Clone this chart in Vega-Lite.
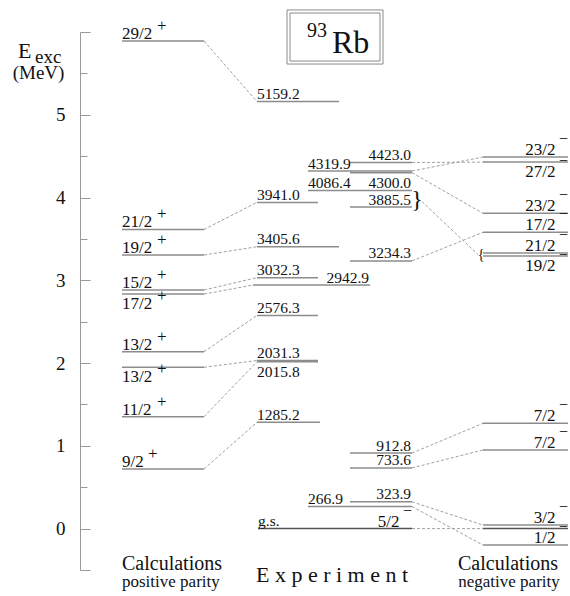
{
  "$schema": "https://vega.github.io/schema/vega-lite/v6.json",
  "width": 490,
  "height": 538,
  "autosize": {"type": "none"},
  "padding": {"left": 80, "top": 32, "right": 0, "bottom": 26},
  "background": "white",
  "config": {"font": "Liberation Serif", "view": {"stroke": null}, "text": {"font": "Liberation Serif", "color": "#111"}},
  "datasets": {
    "levels": [
      {"x": 42, "x2": 124, "e": 5.891, "j": "29/2", "sgn": "+", "jpos": "A"},
      {"x": 42, "x2": 124, "e": 3.614, "j": "21/2", "sgn": "+", "jpos": "A"},
      {"x": 42, "x2": 124, "e": 3.306, "j": "19/2", "sgn": "+", "jpos": "A"},
      {"x": 42, "x2": 124, "e": 2.883, "j": "15/2", "sgn": "+", "jpos": "A"},
      {"x": 42, "x2": 124, "e": 2.834, "j": "17/2", "sgn": "+", "jpos": "B"},
      {"x": 42, "x2": 124, "e": 2.137, "j": "13/2", "sgn": "+", "jpos": "A"},
      {"x": 42, "x2": 124, "e": 1.949, "j": "13/2", "sgn": "+", "jpos": "B"},
      {"x": 42, "x2": 124, "e": 1.352, "j": "11/2", "sgn": "+", "jpos": "A"},
      {"x": 42, "x2": 124, "e": 0.72, "j": "9/2", "sgn": "+", "jpos": "A"},
      {"x": 177, "x2": 259, "e": 5.1592, "lab": "5159.2", "pos": "LA"},
      {"x": 177, "x2": 238, "e": 3.941, "lab": "3941.0", "pos": "LA"},
      {"x": 177, "x2": 259, "e": 3.4056, "lab": "3405.6", "pos": "LA"},
      {"x": 177, "x2": 238, "e": 3.0323, "lab": "3032.3", "pos": "LA"},
      {"x": 173, "x2": 290, "e": 2.9429, "lab": "2942.9", "pos": "RA"},
      {"x": 177, "x2": 238, "e": 2.5763, "lab": "2576.3", "pos": "LA"},
      {"x": 177, "x2": 238, "e": 2.0313, "lab": "2031.3", "pos": "LA"},
      {"x": 177, "x2": 238, "e": 2.0158, "lab": "2015.8", "pos": "LB"},
      {"x": 177, "x2": 240, "e": 1.2852, "lab": "1285.2", "pos": "LA"},
      {"x": 178, "x2": 332, "e": 0, "lab": "g.s.", "pos": "LA", "j": "5/2", "sgn": "−", "jpos": "A"},
      {"x": 270, "x2": 332, "e": 4.423, "lab": "4423.0", "pos": "RA"},
      {"x": 228, "x2": 332, "e": 4.3199, "lab": "4319.9", "pos": "LA"},
      {"x": 270, "x2": 332, "e": 4.3, "lab": "4300.0", "pos": "RB"},
      {"x": 228, "x2": 332, "e": 4.0864, "lab": "4086.4", "pos": "LA"},
      {"x": 270, "x2": 332, "e": 3.8855, "lab": "3885.5", "pos": "RA"},
      {"x": 270, "x2": 332, "e": 3.2343, "lab": "3234.3", "pos": "RA"},
      {"x": 270, "x2": 332, "e": 0.9128, "lab": "912.8", "pos": "RA"},
      {"x": 270, "x2": 332, "e": 0.7336, "lab": "733.6", "pos": "RA"},
      {"x": 270, "x2": 332, "e": 0.3239, "lab": "323.9", "pos": "RA"},
      {"x": 228, "x2": 332, "e": 0.2669, "lab": "266.9", "pos": "LA"},
      {"x": 403, "x2": 488, "e": 4.489, "j": "23/2", "sgn": "−", "jpos": "A"},
      {"x": 403, "x2": 488, "e": 4.428, "j": "27/2", "sgn": "−", "jpos": "B"},
      {"x": 403, "x2": 488, "e": 3.809, "j": "23/2", "sgn": "−", "jpos": "A"},
      {"x": 403, "x2": 488, "e": 3.58, "j": "17/2", "sgn": "−", "jpos": "A"},
      {"x": 403, "x2": 488, "e": 3.33, "j": "21/2", "sgn": "−", "jpos": "A"},
      {"x": 403, "x2": 488, "e": 3.293, "j": "19/2", "sgn": "−", "jpos": "B"},
      {"x": 403, "x2": 488, "e": 1.272, "j": "7/2", "sgn": "−", "jpos": "A"},
      {"x": 403, "x2": 488, "e": 0.95, "j": "7/2", "sgn": "−", "jpos": "A"},
      {"x": 403, "x2": 488, "e": 0.043, "j": "3/2", "sgn": "−", "jpos": "A"},
      {"x": 403, "x2": 488, "e": 0},
      {"x": 403, "x2": 488, "e": -0.199, "j": "1/2", "sgn": "−", "jpos": "A"}
    ],
    "links": [
      {"x": 124, "e": 5.891, "x2": 177, "e2": 5.1592},
      {"x": 124, "e": 3.614, "x2": 177, "e2": 3.941},
      {"x": 124, "e": 3.306, "x2": 177, "e2": 3.4056},
      {"x": 124, "e": 2.883, "x2": 177, "e2": 3.0323},
      {"x": 124, "e": 2.834, "x2": 173, "e2": 2.9429},
      {"x": 124, "e": 2.137, "x2": 177, "e2": 2.5763},
      {"x": 124, "e": 1.949, "x2": 177, "e2": 2.0313},
      {"x": 124, "e": 1.352, "x2": 177, "e2": 2.0158},
      {"x": 124, "e": 0.72, "x2": 177, "e2": 1.2852},
      {"x": 332, "e": 4.423, "x2": 403, "e2": 4.428},
      {"x": 332, "e": 4.3199, "x2": 403, "e2": 4.489},
      {"x": 332, "e": 4.3, "x2": 403, "e2": 3.809},
      {"x": 342, "e": 3.95, "x2": 398, "e2": 3.311},
      {"x": 332, "e": 3.2343, "x2": 403, "e2": 3.58},
      {"x": 332, "e": 0.9128, "x2": 403, "e2": 1.272},
      {"x": 332, "e": 0.7336, "x2": 403, "e2": 0.95},
      {"x": 332, "e": 0.3239, "x2": 403, "e2": 0.043},
      {"x": 332, "e": 0.2669, "x2": 403, "e2": -0.199},
      {"x": 332, "e": 0, "x2": 403, "e2": 0}
    ],
    "box": [
      {"x": 207, "x2": 303, "e": 6.266, "e2": 5.613},
      {"x": 210, "x2": 300, "e": 6.229, "e2": 5.649}
    ],
    "notes": [
      {"t": "E", "x": -62, "e": 5.686, "k": "E"},
      {"t": "exc", "x": -45, "e": 5.62, "k": "sub"},
      {"t": "(MeV)", "x": -41.5, "e": 5.43, "k": "unit"},
      {"t": "Calculations", "x": 42, "e": -0.502, "k": "calcL"},
      {"t": "positive parity", "x": 42, "e": -0.71, "k": "parL"},
      {"t": "E x p e r i m e n t", "x": 252, "e": -0.647, "k": "exp"},
      {"t": "Calculations", "x": 428, "e": -0.502, "k": "calcR"},
      {"t": "negative parity", "x": 429, "e": -0.71, "k": "parR"},
      {"t": "Rb", "x": 252, "e": 5.746, "k": "iso"},
      {"t": "93", "x": 247, "e": 5.939, "k": "mass"},
      {"t": "}", "x": 337, "e": 3.97, "k": "brace"},
      {"t": "{", "x": 401, "e": 3.311, "k": "brace2"}
    ]
  },
  "encoding": {
    "x": {"field": "x", "type": "quantitative", "scale": {"domain": [0, 490], "nice": false, "zero": false}, "axis": null},
    "y": {
      "field": "e",
      "type": "quantitative",
      "scale": {"domain": [-0.5, 6], "nice": false, "zero": false},
      "axis": {
        "title": null,
        "grid": false,
        "values": [-0.5, 0, 0.5, 1, 1.5, 2, 2.5, 3, 3.5, 4, 4.5, 5, 5.5, 6],
        "labelExpr": "(datum.value % 1 === 0 && datum.value >= 0 && datum.value < 6) ? format(datum.value, 'd') : ''",
        "tickSize": {"condition": {"test": "datum.value % 1 === 0 || datum.value === -0.5", "value": -10}, "value": -7},
        "labelPadding": 25,
        "labelFont": "Liberation Serif",
        "labelFontSize": 19,
        "labelColor": "#111",
        "domainColor": "#999",
        "tickColor": "#999",
        "domainWidth": 1,
        "tickWidth": 1,
        "labelBound": false,
        "labelFlush": false,
        "labelOverlap": false
      }
    }
  },
  "layer": [
    {
      "data": {"name": "box"},
      "mark": {"type": "rect", "filled": false, "stroke": "#8a8a8a", "strokeWidth": 1},
      "encoding": {"x2": {"field": "x2"}, "y2": {"field": "e2"}}
    },
    {
      "data": {"name": "links"},
      "mark": {"type": "rule", "stroke": "#a0a0a0", "strokeWidth": 1, "strokeDash": [3, 2]},
      "encoding": {"x2": {"field": "x2"}, "y2": {"field": "e2"}}
    },
    {
      "data": {"name": "levels"},
      "mark": {"type": "rule", "strokeWidth": 1.5},
      "encoding": {
        "x2": {"field": "x2"},
        "color": {"condition": {"test": "datum.e === 0", "value": "#555555"}, "value": "#8c8c8c"}
      }
    },
    {
      "data": {"name": "levels"},
      "transform": [{"filter": "datum.pos === 'LA'"}],
      "mark": {"type": "text", "font": "Liberation Serif", "align": "left", "baseline": "alphabetic", "dy": -2.5, "fontSize": 15.5},
      "encoding": {"text": {"field": "lab"}}
    },
    {
      "data": {"name": "levels"},
      "transform": [{"filter": "datum.pos === 'RA'"}],
      "mark": {"type": "text", "font": "Liberation Serif", "align": "right", "baseline": "alphabetic", "dy": -2.5, "dx": -1, "fontSize": 15.5},
      "encoding": {"x": {"field": "x2", "type": "quantitative"}, "text": {"field": "lab"}}
    },
    {
      "data": {"name": "levels"},
      "transform": [{"filter": "datum.pos === 'LB'"}],
      "mark": {"type": "text", "font": "Liberation Serif", "align": "left", "baseline": "alphabetic", "dy": 15, "fontSize": 15.5},
      "encoding": {"text": {"field": "lab"}}
    },
    {
      "data": {"name": "levels"},
      "transform": [{"filter": "datum.pos === 'RB'"}],
      "mark": {"type": "text", "font": "Liberation Serif", "align": "right", "baseline": "alphabetic", "dy": 15, "dx": -1, "fontSize": 15.5},
      "encoding": {"x": {"field": "x2", "type": "quantitative"}, "text": {"field": "lab"}}
    },
    {
      "data": {"name": "levels"},
      "transform": [{"filter": "datum.sgn === '+' && datum.jpos === 'A'"}],
      "mark": {"type": "text", "font": "Liberation Serif", "align": "left", "baseline": "alphabetic", "dy": -2, "fontSize": 17},
      "encoding": {"text": {"field": "j"}}
    },
    {
      "data": {"name": "levels"},
      "transform": [{"filter": "datum.sgn === '+' && datum.jpos === 'B'"}],
      "mark": {"type": "text", "font": "Liberation Serif", "align": "left", "baseline": "alphabetic", "dy": 15, "fontSize": 17},
      "encoding": {"text": {"field": "j"}}
    },
    {
      "data": {"name": "levels"},
      "transform": [{"filter": "datum.sgn === '+' && datum.jpos === 'A' && length(datum.j) === 4"}],
      "mark": {"type": "text", "font": "Liberation Serif", "align": "left", "baseline": "alphabetic", "dx": 35, "dy": -10, "fontSize": 17},
      "encoding": {"text": {"field": "sgn"}}
    },
    {
      "data": {"name": "levels"},
      "transform": [{"filter": "datum.sgn === '+' && datum.jpos === 'A' && length(datum.j) === 3"}],
      "mark": {"type": "text", "font": "Liberation Serif", "align": "left", "baseline": "alphabetic", "dx": 26, "dy": -10, "fontSize": 17},
      "encoding": {"text": {"field": "sgn"}}
    },
    {
      "data": {"name": "levels"},
      "transform": [{"filter": "datum.sgn === '+' && datum.jpos === 'B'"}],
      "mark": {"type": "text", "font": "Liberation Serif", "align": "left", "baseline": "alphabetic", "dx": 35, "dy": 7, "fontSize": 17},
      "encoding": {"text": {"field": "sgn"}}
    },
    {
      "data": {"name": "levels"},
      "transform": [{"filter": "datum.sgn === '−' && datum.jpos === 'A'"}],
      "mark": {"type": "text", "font": "Liberation Serif", "align": "right", "baseline": "alphabetic", "dx": -12.5, "dy": -2, "fontSize": 17},
      "encoding": {"x": {"field": "x2", "type": "quantitative"}, "text": {"field": "j"}}
    },
    {
      "data": {"name": "levels"},
      "transform": [{"filter": "datum.sgn === '−' && datum.jpos === 'B'"}],
      "mark": {"type": "text", "font": "Liberation Serif", "align": "right", "baseline": "alphabetic", "dx": -12.5, "dy": 15, "fontSize": 17},
      "encoding": {"x": {"field": "x2", "type": "quantitative"}, "text": {"field": "j"}}
    },
    {
      "data": {"name": "levels"},
      "transform": [{"filter": "datum.sgn === '−' && datum.jpos === 'A'"}],
      "mark": {"type": "text", "font": "Liberation Serif", "align": "right", "baseline": "alphabetic", "dy": -13, "fontSize": 16},
      "encoding": {"x": {"field": "x2", "type": "quantitative"}, "text": {"field": "sgn"}}
    },
    {
      "data": {"name": "levels"},
      "transform": [{"filter": "datum.sgn === '−' && datum.jpos === 'B'"}],
      "mark": {"type": "text", "font": "Liberation Serif", "align": "right", "baseline": "alphabetic", "dy": 4, "fontSize": 16},
      "encoding": {"x": {"field": "x2", "type": "quantitative"}, "text": {"field": "sgn"}}
    },
    {
      "data": {"name": "notes"},
      "transform": [{"filter": "datum.k === 'E'"}],
      "mark": {"type": "text", "font": "Liberation Serif", "align": "left", "baseline": "alphabetic", "fontSize": 22},
      "encoding": {"text": {"field": "t"}}
    },
    {
      "data": {"name": "notes"},
      "transform": [{"filter": "datum.k === 'sub'"}],
      "mark": {"type": "text", "font": "Liberation Serif", "align": "left", "baseline": "alphabetic", "fontSize": 19},
      "encoding": {"text": {"field": "t"}}
    },
    {
      "data": {"name": "notes"},
      "transform": [{"filter": "datum.k === 'unit'"}],
      "mark": {"type": "text", "font": "Liberation Serif", "align": "center", "baseline": "alphabetic", "fontSize": 19},
      "encoding": {"text": {"field": "t"}}
    },
    {
      "data": {"name": "notes"},
      "transform": [{"filter": "datum.k === 'calcL'"}],
      "mark": {"type": "text", "font": "Liberation Serif", "align": "left", "baseline": "alphabetic", "fontSize": 20},
      "encoding": {"text": {"field": "t"}}
    },
    {
      "data": {"name": "notes"},
      "transform": [{"filter": "datum.k === 'parL'"}],
      "mark": {"type": "text", "font": "Liberation Serif", "align": "left", "baseline": "alphabetic", "fontSize": 17},
      "encoding": {"text": {"field": "t"}}
    },
    {
      "data": {"name": "notes"},
      "transform": [{"filter": "datum.k === 'calcR'"}],
      "mark": {"type": "text", "font": "Liberation Serif", "align": "center", "baseline": "alphabetic", "fontSize": 20},
      "encoding": {"text": {"field": "t"}}
    },
    {
      "data": {"name": "notes"},
      "transform": [{"filter": "datum.k === 'parR'"}],
      "mark": {"type": "text", "font": "Liberation Serif", "align": "center", "baseline": "alphabetic", "fontSize": 17},
      "encoding": {"text": {"field": "t"}}
    },
    {
      "data": {"name": "notes"},
      "transform": [{"filter": "datum.k === 'exp'"}],
      "mark": {"type": "text", "font": "Liberation Serif", "align": "center", "baseline": "alphabetic", "fontSize": 22},
      "encoding": {"text": {"field": "t"}}
    },
    {
      "data": {"name": "notes"},
      "transform": [{"filter": "datum.k === 'iso'"}],
      "mark": {"type": "text", "font": "Liberation Serif", "align": "left", "baseline": "alphabetic", "fontSize": 32},
      "encoding": {"text": {"field": "t"}}
    },
    {
      "data": {"name": "notes"},
      "transform": [{"filter": "datum.k === 'mass'"}],
      "mark": {"type": "text", "font": "Liberation Serif", "align": "right", "baseline": "alphabetic", "fontSize": 20},
      "encoding": {"text": {"field": "t"}}
    },
    {
      "data": {"name": "notes"},
      "transform": [{"filter": "datum.k === 'brace'"}],
      "mark": {"type": "text", "font": "Liberation Serif", "align": "center", "baseline": "middle", "fontSize": 24},
      "encoding": {"text": {"field": "t"}}
    },
    {
      "data": {"name": "notes"},
      "transform": [{"filter": "datum.k === 'brace2'"}],
      "mark": {"type": "text", "font": "Liberation Serif", "align": "center", "baseline": "middle", "fontSize": 14},
      "encoding": {"text": {"field": "t"}}
    }
  ]
}
